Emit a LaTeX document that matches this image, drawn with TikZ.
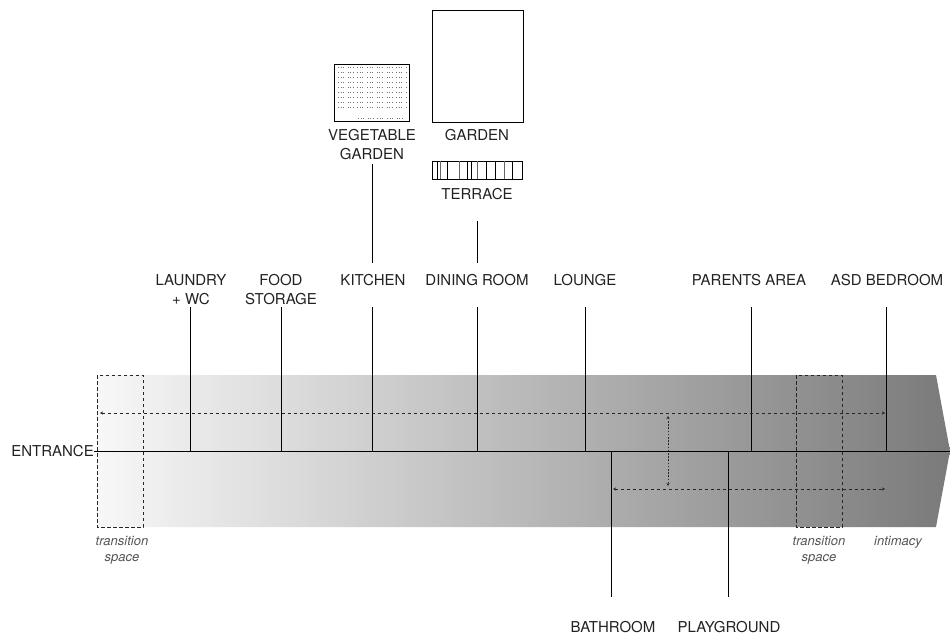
\documentclass[tikz,border=0pt]{standalone}
\usepackage{fontspec}
\setmainfont{TeX Gyre Heros}
\usetikzlibrary{arrows.meta}
\definecolor{txt}{HTML}{222222}
\definecolor{itx}{HTML}{555555}
\tikzset{
  lbl/.style={font=\fontsize{15}{19}\selectfont, text=txt, inner sep=0pt, align=center},
  ilbl/.style={font=\fontsize{13}{16.5}\selectfont\itshape, text=itx, inner sep=0pt, align=center},
  link/.style={draw=black, line width=0.8pt},
  zone/.style={draw=black!85, line width=0.8pt, dash pattern=on 3.5pt off 2.5pt},
  flow/.style={draw=black!85, line width=0.7pt, dash pattern=on 3pt off 3pt, {Stealth[length=3pt,width=3pt]}-{Stealth[length=3pt,width=3pt]}},
  flowv/.style={draw=black!85, line width=0.7pt, dash pattern=on 1.6pt off 1.6pt, {Stealth[length=3pt,width=3pt]}-{Stealth[length=3pt,width=3pt]}},
  plan/.style={draw=black, line width=0.8pt}
}
\begin{document}
\begin{tikzpicture}[x=1pt,y=-1pt]
\useasboundingbox (0,0) rectangle (950,636);
% band
\shade[left color=black!3, right color=black!52] (97,375) -- (936,375) -- (950,451) -- (936,527) -- (97,527) -- cycle;
% transition zones
\draw[zone] (97,375) rectangle (143,527);
\draw[zone] (796,375) rectangle (842,527);
% top plans
\draw[plan] (334,64) rectangle (409,121);
\foreach \yy in {67,72,77,82,87,92,97,102,107}
  \draw[black!55, line width=0.7pt, dash pattern=on 0.7pt off 1.8pt on 0.7pt off 1.8pt on 0.7pt off 4pt] (338,\yy) -- (406,\yy);
\draw[black!55, line width=0.7pt, dash pattern=on 0.7pt off 1.8pt on 0.7pt off 1.8pt on 0.7pt off 4pt] (358,118) -- (406,118);
\draw[plan] (432,10) rectangle (523,122);
\draw[plan] (432,161) rectangle (522,179);
\foreach \xx/\cc in {437.3/black,440.7/black!60,447.7/black,459/black!60,467.7/black,471.7/black,477.7/black!60,486.7/black,495/black,504/black!60,512.3/black}
  \draw[\cc, line width=0.7pt] (\xx,161) -- (\xx,179);
% labels
\node[lbl, anchor=east] (entrance) at (94,451) {ENTRANCE};
\node[lbl, anchor=north] (laundry) at (191,274) {LAUNDRY\\+ WC};
\node[lbl, anchor=north] (food) at (281,274) {FOOD\\STORAGE};
\node[lbl, anchor=north] (kitchen) at (373,274) {KITCHEN};
\node[lbl, anchor=north] (dining) at (477,274) {DINING ROOM};
\node[lbl, anchor=north] (lounge) at (585,274) {LOUNGE};
\node[lbl, anchor=north] (parents) at (749,274) {PARENTS AREA};
\node[lbl, anchor=north] (asd) at (887,274) {ASD BEDROOM};
\node[lbl, anchor=north] (veg) at (372,129) {VEGETABLE\\GARDEN};
\node[lbl, anchor=north] (garden) at (477,129) {GARDEN};
\node[lbl, anchor=north] (terrace) at (477,188) {TERRACE};
\node[lbl, anchor=north] (bath) at (613,621) {BATHROOM};
\node[lbl, anchor=north] (play) at (729,621) {PLAYGROUND};
\node[ilbl, anchor=north] (trans1) at (122,536) {transition\\space};
\node[ilbl, anchor=north] (trans2) at (819,536) {transition\\space};
\node[ilbl, anchor=north] (intim) at (898,536) {intimacy};
% coordinates
\coordinate (tip) at (950,451);
\foreach \n/\xx in {lau/190,foo/281,kit/372,din/477,lou/585,par/751,asd/886}{
  \coordinate (\n-t) at (\xx,307);
  \coordinate (\n-b) at (\xx,451);
}
\coordinate (kit-u) at (372,164);
\coordinate (kit-v) at (372,263);
\coordinate (din-u) at (477,221);
\coordinate (din-v) at (477,263);
\coordinate (bat-t) at (611,451);
\coordinate (bat-b) at (611,597);
\coordinate (pla-t) at (728,451);
\coordinate (pla-b) at (728,597);
% connectors
\draw[link] (entrance.east) -- (tip);
\foreach \n in {lau,foo,kit,din,lou,par,asd}
  \draw[link] (\n-t) -- (\n-b);
\draw[link] (kit-u) -- (kit-v);
\draw[link] (din-u) -- (din-v);
\draw[link] (bat-t) -- (bat-b);
\draw[link] (pla-t) -- (pla-b);
% flows
\coordinate (f1a) at (100,413);
\coordinate (f1b) at (885,413);
\coordinate (f2a) at (613,489);
\coordinate (f2b) at (885,489);
\coordinate (f3a) at (668,416);
\coordinate (f3b) at (668,486);
\draw[flow] (f1a) -- (f1b);
\draw[flow] (f2a) -- (f2b);
\draw[flowv] (f3a) -- (f3b);
\end{tikzpicture}
\end{document}
